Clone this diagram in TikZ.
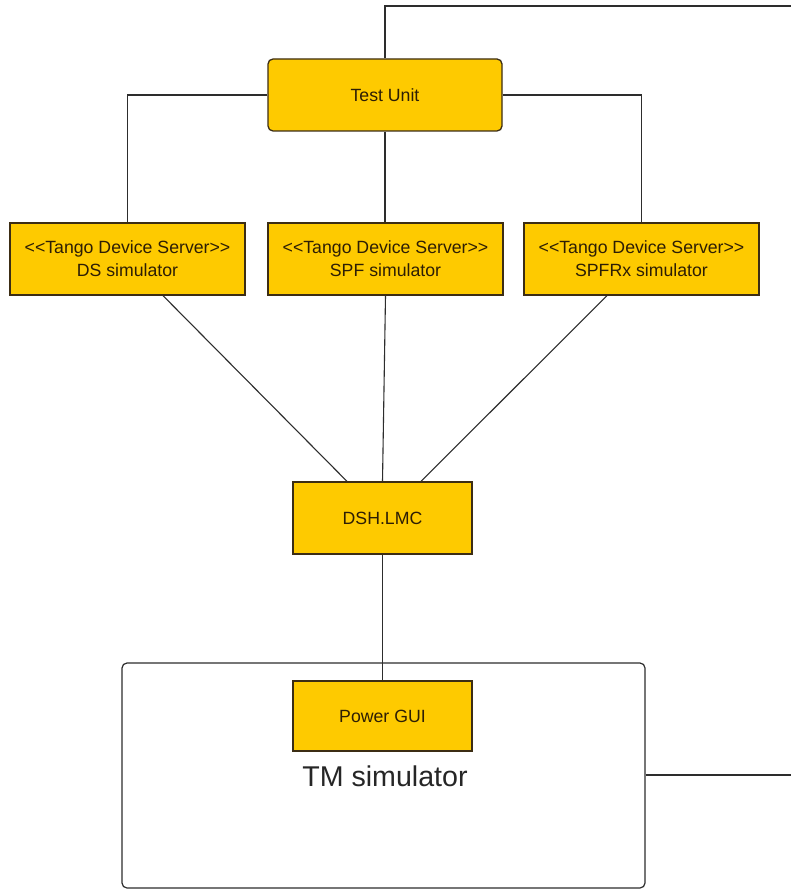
\documentclass[tikz,border=0pt]{standalone}
\usepackage{fontspec}
\setmainfont{Liberation Sans}
\definecolor{boxfill}{RGB}{254,202,0}
\definecolor{boxdraw}{RGB}{60,45,20}
\definecolor{txt}{RGB}{45,30,5}
\definecolor{wire}{RGB}{45,45,45}
\begin{document}
\begin{tikzpicture}[x=1pt,y=-1pt,
  ybox/.style={draw=boxdraw, line width=1.3pt, fill=boxfill, text=txt, inner sep=0pt, align=center,
     font=\fontsize{17.7}{23}\selectfont},
  rbox/.style={ybox, rounded corners=5pt},
  frame/.style={draw=wire, line width=1.2pt, rounded corners=5pt, inner sep=0pt},
  wirel/.style={draw=wire, line width=1.1pt}]
\useasboundingbox (0,0) rectangle (791,890);
\fill[white] (0,0) rectangle (791,890);

\node[frame, minimum width=523pt, minimum height=225pt] (TM) at (383.5,775.5) {};
\node[font=\fontsize{28.6}{32}\selectfont, text=black!85] (TMl) at (385,776) {TM simulator};

\node[rbox, minimum width=234pt, minimum height=72pt] (TU) at (385,95) {Test Unit};
\node[ybox, minimum width=235pt, minimum height=72pt] (DS) at (127.5,259) {<{}<Tango Device Server>{}>\\DS simulator};
\node[ybox, minimum width=235pt, minimum height=72pt] (SPF) at (385.5,259) {<{}<Tango Device Server>{}>\\SPF simulator};
\node[ybox, minimum width=235pt, minimum height=72pt] (RX) at (641.5,259) {<{}<Tango Device Server>{}>\\SPFRx simulator};
\node[ybox, minimum width=179pt, minimum height=72pt] (DSH) at (382.5,518) {DSH.LMC};
\node[ybox, minimum width=179pt, minimum height=70pt] (PG) at (382.5,716) {Power GUI};

\coordinate (topR) at (791,6);
\coordinate (botR) at (791,775);

\draw[wirel] (TU.north) -- (TU.north |- topR) -- (topR);
\draw[wirel] (TU.west) -| (DS.north);
\draw[wirel] (TU.south) -- (TU.south |- SPF.north);
\draw[wirel] (TU.east) -| (RX.north);
\draw[wirel] ([xshift=35.5pt]DS.south) -- ([xshift=-35.5pt]DSH.north);
\draw[wirel] (SPF.south) -- (DSH.north);
\draw[wirel] ([xshift=-34.5pt]RX.south) -- ([xshift=38.5pt]DSH.north);
\draw[wirel] (DSH.south) -- (PG.north);
\draw[wirel] (TM.east |- botR) -- (botR);
\end{tikzpicture}
\end{document}
